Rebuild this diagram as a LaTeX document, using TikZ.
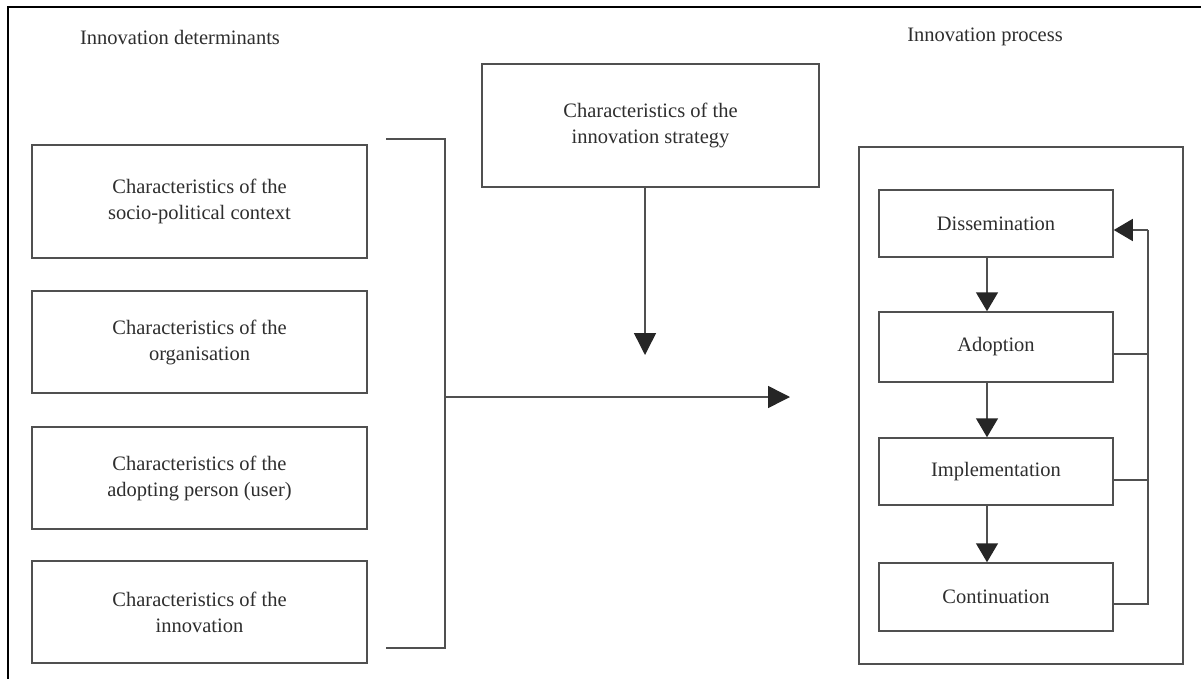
\documentclass[tikz,border=0pt]{standalone}
\usepackage{fontspec}
\setmainfont{Liberation Serif}
\usetikzlibrary{arrows.meta}
\definecolor{linegray}{HTML}{505050}
\definecolor{textgray}{HTML}{2E2E2E}
\begin{document}
\begin{tikzpicture}[x=1pt,y=-1pt,
  every node/.style={text=textgray, font=\fontsize{20.5}{26}\selectfont},
  box/.style={draw=linegray, line width=1.5pt, align=center, inner sep=0pt},
  detbox/.style={box, minimum width=335pt, minimum height=105pt},
  procbox/.style={box, minimum width=234pt, minimum height=68pt},
  conn/.style={draw=linegray, line width=1.5pt},
  bigarr/.style={conn, -{Triangle[length=22pt,width=22pt,color=black!85]}},
  smallarr/.style={conn, -{Triangle[length=19pt,width=22pt,color=black!85]}}
]
\useasboundingbox (0,0) rectangle (1201,679);
\fill[white] (0,0) rectangle (1201,679);

% frame
\draw[line width=2pt, black] (8,679) -- (8,7) -- (1201,7);

% headings
\node (hdet) at (180,37) {Innovation determinants};
\node (hproc) at (985,37) {Innovation process};

% determinant boxes
\node[detbox, minimum height=113pt] (soc) at (199.5,201.5) {Characteristics of the\\socio-political context};
\node[detbox, minimum height=102pt] (org) at (199.5,342) {Characteristics of the\\organisation};
\node[detbox, minimum height=102pt] (user) at (199.5,478) {Characteristics of the\\adopting person (user)};
\node[detbox, minimum height=102pt] (inn) at (199.5,612) {Characteristics of the\\innovation};

% strategy box
\node[box, minimum width=337pt, minimum height=123pt] (strat) at (650.5,125.5) {Characteristics of the\\innovation strategy};

% bracket collecting the determinants
\coordinate (bt) at (386,139);
\coordinate (btc) at (445,139);
\coordinate (bbc) at (445,648);
\coordinate (bb) at (386,648);
\coordinate (bmid) at (445,397);
\coordinate (harr) at (790,397);
\coordinate (varr) at (645,355);
\draw[conn] (bt) -- (btc) -- (bbc) -- (bb);
\draw[bigarr] (bmid) -- (harr);
\draw[bigarr] (strat.south -| varr) -- (varr);

% process frame and stages
\node[draw=linegray, line width=1.5pt, minimum width=324pt, minimum height=517pt] (proc) at (1021,405.5) {};
\node[procbox, minimum height=67pt] (diss) at (996,223.5) {Dissemination};
\node[procbox, minimum height=70pt] (adop) at (996,347) {Adoption};
\node[procbox, minimum height=67pt] (impl) at (996,471.5) {Implementation};
\node[procbox, minimum height=68pt] (cont) at (996,597) {Continuation};

\draw[smallarr] ([xshift=-9pt]diss.south) -- ([xshift=-9pt]adop.north);
\draw[smallarr] ([xshift=-9pt]adop.south) -- ([xshift=-9pt]impl.north);
\draw[smallarr] ([xshift=-9pt]impl.south) -- ([xshift=-9pt]cont.north);

% feedback loop
\coordinate (fb) at (1148,0);
\draw[conn] ([yshift=-7pt]cont.east) -- ([yshift=-7pt]cont.east -| fb) -- ([yshift=-6.5pt]diss.east -| fb);
\draw[smallarr] ([yshift=-6.5pt]diss.east -| fb) -- ([yshift=-6.5pt]diss.east);
\draw[conn] ([yshift=-7pt]adop.east) -- ([yshift=-7pt]adop.east -| fb);
\draw[conn] ([yshift=-8.5pt]impl.east) -- ([yshift=-8.5pt]impl.east -| fb);
\end{tikzpicture}
\end{document}
